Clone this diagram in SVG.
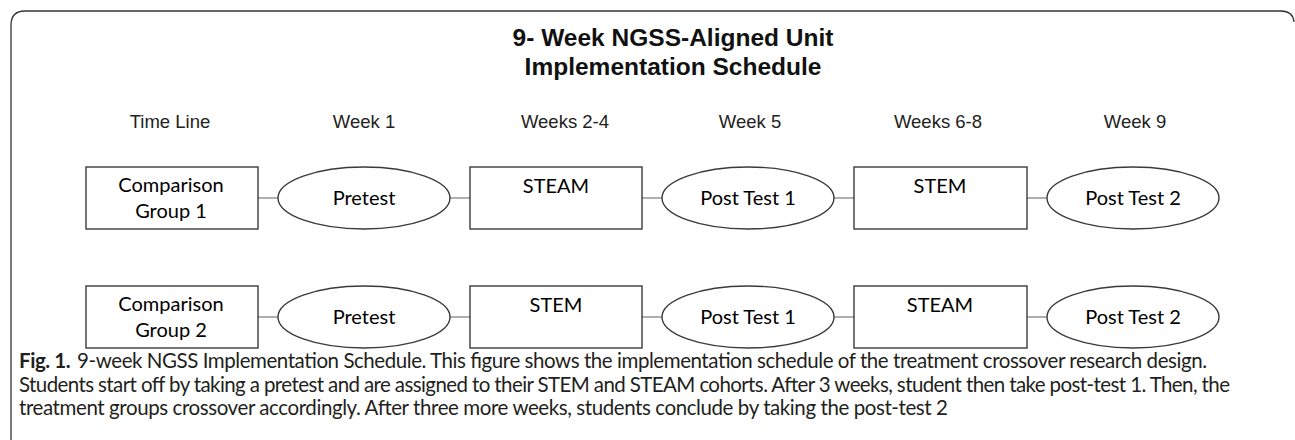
<svg xmlns="http://www.w3.org/2000/svg" width="1295" height="440" viewBox="0 0 1295 440">
  <style>
    .frame { fill: none; stroke: #333; stroke-width: 1.3; }
    .node { fill: #fff; stroke: #3a3a3a; stroke-width: 1.4; }
    .link { stroke: #8c8c8c; stroke-width: 1.4; fill: none; }
    .title { font-family: "Liberation Sans", Arial, sans-serif; font-weight: bold; font-size: 24.5px; fill: #111; text-anchor: middle; }
    .head { font-family: "Liberation Sans", Arial, sans-serif; font-size: 18.5px; fill: #222; text-anchor: middle; }
    .lbl { font-family: Lato, "Open Sans", sans-serif; font-size: 20px; fill: #000; text-anchor: middle; }
    .cap { font-family: Lato, "Open Sans", sans-serif; font-size: 20.5px; fill: #231f20; }
    .cap .b { font-weight: bold; }
  </style>

  <!-- outer panel border -->
  <path class="frame" d="M11,440 V25 Q11,11 25,11 H1281 Q1293,11 1294,22"/>

  <!-- heading -->
  <g id="title">
    <text class="title" x="673" y="46">9- Week NGSS-Aligned Unit</text>
    <text class="title" x="673" y="75">Implementation Schedule</text>
  </g>

  <!-- column headings -->
  <g id="timeline-header">
    <text class="head" x="170" y="128">Time Line</text>
    <text class="head" x="364" y="128">Week 1</text>
    <text class="head" x="565" y="128">Weeks 2-4</text>
    <text class="head" x="750" y="128">Week 5</text>
    <text class="head" x="938" y="128">Weeks 6-8</text>
    <text class="head" x="1135" y="128">Week 9</text>
  </g>

  <!-- connectors -->
  <g id="connectors">
    <line class="link" x1="258" y1="198" x2="278" y2="198"/>
    <line class="link" x1="450" y1="198" x2="470" y2="198"/>
    <line class="link" x1="642" y1="198" x2="662" y2="198"/>
    <line class="link" x1="834" y1="198" x2="854" y2="198"/>
    <line class="link" x1="1027" y1="198" x2="1047" y2="198"/>
    <line class="link" x1="258" y1="317" x2="278" y2="317"/>
    <line class="link" x1="450" y1="317" x2="470" y2="317"/>
    <line class="link" x1="642" y1="317" x2="662" y2="317"/>
    <line class="link" x1="834" y1="317" x2="854" y2="317"/>
    <line class="link" x1="1027" y1="317" x2="1047" y2="317"/>
  </g>

  <!-- row 1 -->
  <g id="group1">
    <rect class="node" x="86" y="167" width="172" height="62"/>
    <text class="lbl" x="171" y="192">Comparison</text>
    <text class="lbl" x="171" y="218">Group 1</text>
  </g>
  <g id="g1-pretest">
    <ellipse class="node" cx="364" cy="198" rx="86" ry="31"/>
    <text class="lbl" x="364" y="205">Pretest</text>
  </g>
  <g id="g1-steam">
    <rect class="node" x="470" y="167" width="172" height="62"/>
    <text class="lbl" x="556" y="193">STEAM</text>
  </g>
  <g id="g1-posttest1">
    <ellipse class="node" cx="748" cy="198" rx="86" ry="31"/>
    <text class="lbl" x="748" y="205">Post Test 1</text>
  </g>
  <g id="g1-stem">
    <rect class="node" x="854" y="167" width="173" height="62"/>
    <text class="lbl" x="940" y="193">STEM</text>
  </g>
  <g id="g1-posttest2">
    <ellipse class="node" cx="1133" cy="198" rx="86" ry="31"/>
    <text class="lbl" x="1133" y="205">Post Test 2</text>
  </g>

  <!-- row 2 -->
  <g id="group2">
    <rect class="node" x="86" y="286" width="172" height="62"/>
    <text class="lbl" x="171" y="311">Comparison</text>
    <text class="lbl" x="171" y="337">Group 2</text>
  </g>
  <g id="g2-pretest">
    <ellipse class="node" cx="364" cy="317" rx="86" ry="31"/>
    <text class="lbl" x="364" y="324">Pretest</text>
  </g>
  <g id="g2-stem">
    <rect class="node" x="470" y="286" width="172" height="62"/>
    <text class="lbl" x="556" y="312">STEM</text>
  </g>
  <g id="g2-posttest1">
    <ellipse class="node" cx="748" cy="317" rx="86" ry="31"/>
    <text class="lbl" x="748" y="324">Post Test 1</text>
  </g>
  <g id="g2-steam">
    <rect class="node" x="854" y="286" width="173" height="62"/>
    <text class="lbl" x="940" y="312">STEAM</text>
  </g>
  <g id="g2-posttest2">
    <ellipse class="node" cx="1133" cy="317" rx="86" ry="31"/>
    <text class="lbl" x="1133" y="324">Post Test 2</text>
  </g>

  <!-- figure caption -->
  <g id="caption">
    <text class="cap" x="19" y="368" textLength="1188" lengthAdjust="spacing"><tspan class="b">Fig. 1.</tspan><tspan dx="7">9-week NGSS Implementation Schedule. This figure shows the implementation schedule of the treatment crossover research design.</tspan></text>
    <text class="cap" x="19" y="392" textLength="1211" lengthAdjust="spacing">Students start off by taking a pretest and are assigned to their STEM and STEAM cohorts. After 3 weeks, student then take post-test 1. Then, the</text>
    <text class="cap" x="19" y="415" textLength="929" lengthAdjust="spacing">treatment groups crossover accordingly. After three more weeks, students conclude by taking the post-test 2</text>
  </g>
</svg>
